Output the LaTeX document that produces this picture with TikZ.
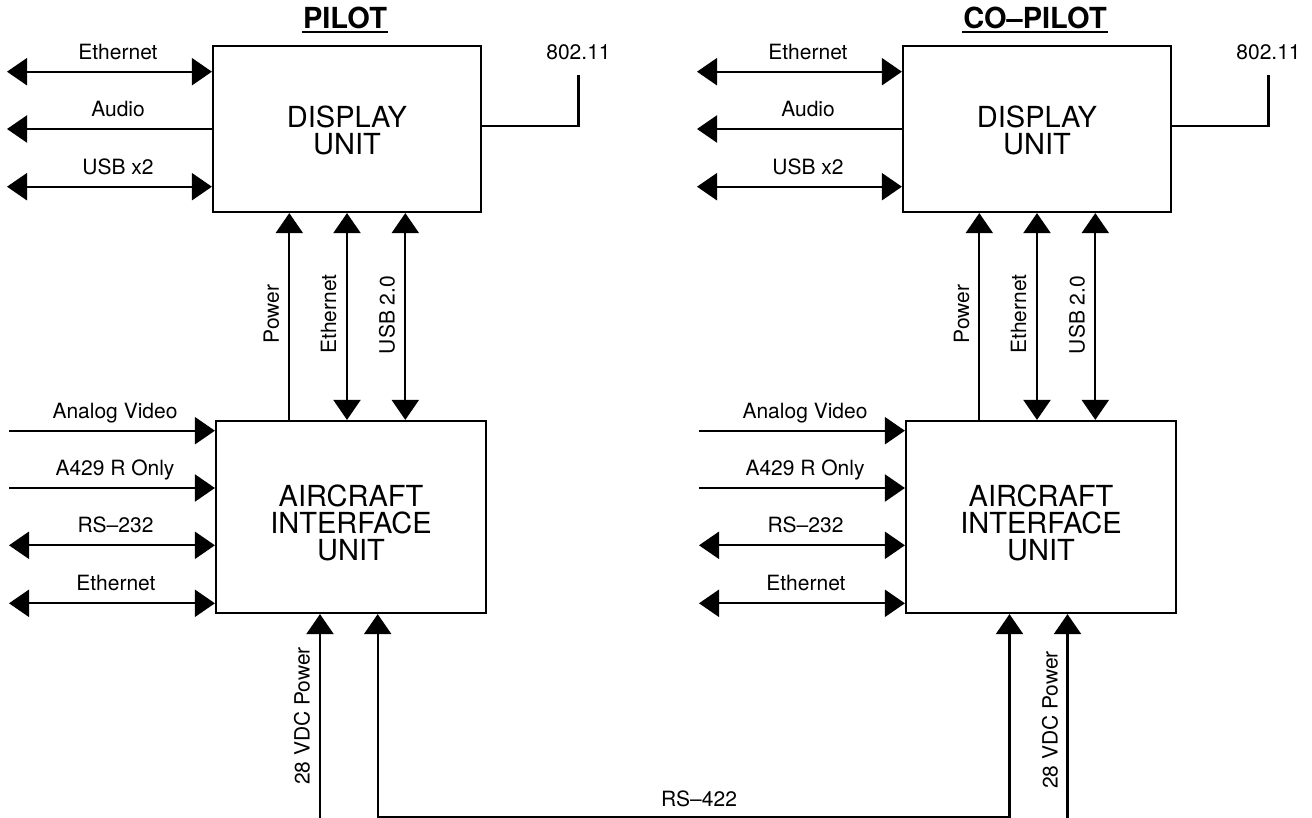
\documentclass[tikz,border=0pt]{standalone}
\usepackage{fontspec}
\setmainfont{TeX Gyre Heros}
\usetikzlibrary{arrows.meta}

\tikzset{
  unit/.style={draw, align=center, inner sep=0pt, font=\fontsize{14.5}{13.5}\selectfont},
  lbl/.style={inner sep=0pt, anchor=base, font=\fontsize{10.5}{12}\selectfont},
  vlbl/.style={inner sep=0pt, rotate=90, font=\fontsize{10.5}{12}\selectfont},
  ttl/.style={inner sep=0pt, anchor=base, font=\fontsize{14.5}{16}\selectfont\bfseries},
}

\begin{document}
\begin{tikzpicture}[x=0.5pt,y=-0.5pt,line width=1.1pt,
    >={Triangle[length=10pt,width=13.5pt]}]
            \useasboundingbox (0,0) rectangle (1312,818);
            \foreach \dx/\s/\who in {0/p/PILOT, 690/c/CO--PILOT} {
                % title and the two units
                \node[ttl] (ttl-\s) at (345+\dx,29) {\who};
                \draw[line width=1pt] ([yshift=-1.7pt]ttl-\s.base west) -- ([yshift=-1.7pt]ttl-\s.base east);
                \node[unit, minimum width=134pt, minimum height=83pt] (disp-\s) at (347+\dx,129) {\rule{0pt}{12pt}DISPLAY\\UNIT};
                \node[unit, minimum width=135pt, minimum height=96pt] (aiu-\s) at (351+\dx,517) {\rule{0pt}{16.4pt}AIRCRAFT\\INTERFACE\\UNIT};
                % display unit, left side
                \coordinate (eth-\s) at (7+\dx,71.7);
                \coordinate (aud-\s) at (7+\dx,129);
                \coordinate (usb-\s) at (7+\dx,186.7);
                \draw[<->] (eth-\s) -- (eth-\s -| disp-\s.west);
                \draw[<-] (aud-\s) -- (aud-\s -| disp-\s.west);
                \draw[<->] (usb-\s) -- (usb-\s -| disp-\s.west);
                \node[lbl] (l-eth-\s) at (118+\dx,59.3) {Ethernet};
                \node[lbl] (l-aud-\s) at (118+\dx,116.5) {Audio};
                \node[lbl] (l-usb-\s) at (118+\dx,174.2) {USB x2};
                % wireless
                \coordinate (wl-\s) at (578.5+\dx,75);
                \draw (wl-\s) |- ([yshift=1.5pt]disp-\s.east);
                \node[lbl] (l-wl-\s) at (578.5+\dx,60) {802.11};
                % links between the units
                \coordinate (pw-\s) at (289.3+\dx,316);
                \coordinate (en-\s) at (347+\dx,316);
                \coordinate (us-\s) at (405.3+\dx,316);
                \draw[->] (pw-\s |- aiu-\s.north) -- (pw-\s |- disp-\s.south);
                \draw[<->] (en-\s |- aiu-\s.north) -- (en-\s |- disp-\s.south);
                \draw[<->] (us-\s |- aiu-\s.north) -- (us-\s |- disp-\s.south);
                \node[vlbl] (l-pw-\s) at (271.5+\dx,314) {Power};
                \node[vlbl] (l-en-\s) at (328.5+\dx,314) {Ethernet};
                \node[vlbl] (l-us-\s) at (387+\dx,315) {USB 2.0};
                % interface unit, left side
                \coordinate (vid-\s) at (9+\dx,430.7);
                \coordinate (arc-\s) at (9+\dx,488);
                \coordinate (ser-\s) at (9+\dx,545.3);
                \coordinate (net-\s) at (9+\dx,603.3);
                \draw[->] (vid-\s) -- (vid-\s -| aiu-\s.west);
                \draw[->] (arc-\s) -- (arc-\s -| aiu-\s.west);
                \draw[<->] (ser-\s) -- (ser-\s -| aiu-\s.west);
                \draw[<->] (net-\s) -- (net-\s -| aiu-\s.west);
                \node[lbl] (l-vid-\s) at (115+\dx,418.3) {Analog Video};
                \node[lbl] (l-arc-\s) at (115+\dx,475.6) {A429 R Only};
                \node[lbl] (l-ser-\s) at (115.5+\dx,532.8) {RS--232};
                \node[lbl] (l-net-\s) at (116+\dx,590.8) {Ethernet};
            }
            % power feeds and the cross link
            \coordinate (pwr-p) at (320,818);
            \coordinate (pwr-c) at (1067.5,818);
            \draw[->] (pwr-p) -- (pwr-p |- aiu-p.south);
            \draw[->] (pwr-c) -- (pwr-c |- aiu-c.south);
            \node[vlbl] (l-pwr-p) at (302,716) {28 VDC Power};
            \node[vlbl] (l-pwr-c) at (1050,720) {28 VDC Power};
            \coordinate (rs-p) at (377.7,816.7);
            \coordinate (rs-c) at (1009.5,816.7);
            \draw[<->] (rs-p |- aiu-p.south) -- (rs-p) -- (rs-c) -- (rs-c |- aiu-c.south);
            \node[lbl] (l-rs) at (699,806.5) {RS--422};
        \end{tikzpicture}
\end{document}
